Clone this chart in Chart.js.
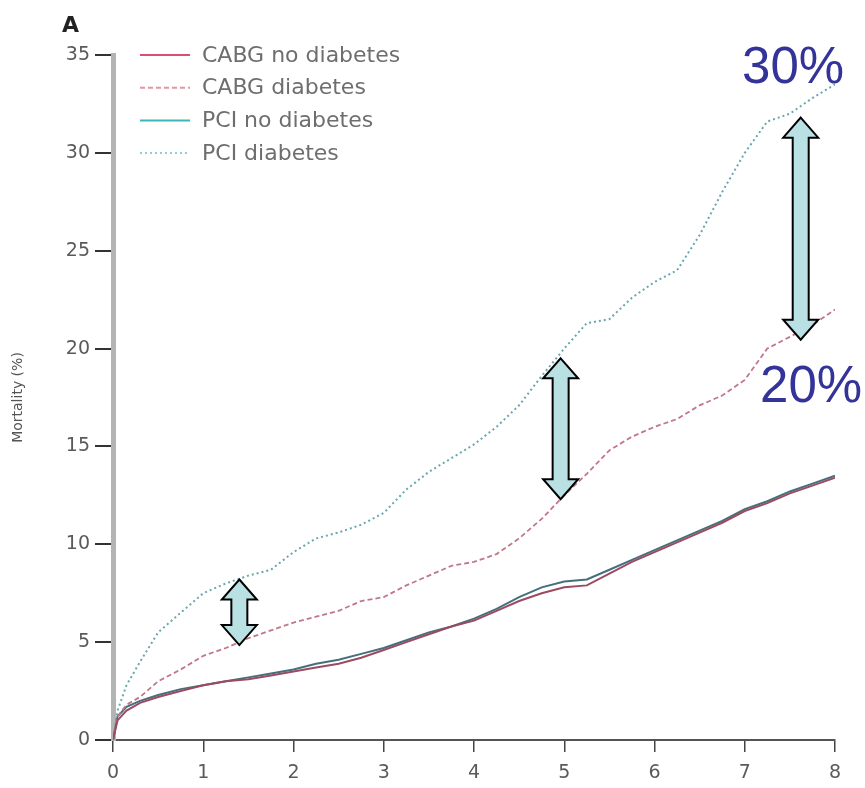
<!DOCTYPE html>
<html>
<head>
<meta charset="utf-8">
<script src="https://cdn.jsdelivr.net/npm/chart.js@4"></script>
<style>
  body { margin: 0; background: #fff; }
</style>
</head>
<body>
<canvas id="mortChart" width="865" height="788"></canvas>
<script>
// follow-up time (years)
const years = [0, 0.05, 0.15, 0.3, 0.5, 0.75, 1, 1.25, 1.5, 1.75, 2, 2.25, 2.5, 2.75, 3, 3.25, 3.5, 3.75,
  4, 4.25, 4.5, 4.75, 5, 5.25, 5.5, 5.75, 6, 6.25, 6.5, 6.75, 7, 7.25, 7.5, 7.75, 8];

// mortality (%)
const cabgNoDiabetes = [0, 1.0, 1.5, 1.9, 2.2, 2.5, 2.8, 3.0, 3.1, 3.3, 3.5, 3.7, 3.9, 4.2, 4.6, 5.0, 5.4, 5.8,
  6.1, 6.6, 7.1, 7.5, 7.8, 7.9, 8.5, 9.1, 9.6, 10.1, 10.6, 11.1, 11.7, 12.1, 12.6, 13.0, 13.4];
const cabgDiabetes = [0, 1.2, 1.8, 2.2, 3.0, 3.6, 4.3, 4.7, 5.2, 5.6, 6.0, 6.3, 6.6, 7.1, 7.3, 7.9, 8.4, 8.9,
  9.1, 9.5, 10.3, 11.3, 12.5, 13.6, 14.8, 15.5, 16.0, 16.4, 17.1, 17.6, 18.4, 20.0, 20.6, 21.2, 22.0];
const pciNoDiabetes = [0, 1.2, 1.7, 2.0, 2.3, 2.6, 2.8, 3.0, 3.2, 3.4, 3.6, 3.9, 4.1, 4.4, 4.7, 5.1, 5.5, 5.8,
  6.2, 6.7, 7.3, 7.8, 8.1, 8.2, 8.7, 9.2, 9.7, 10.2, 10.7, 11.2, 11.8, 12.2, 12.7, 13.1, 13.5];
const pciDiabetes = [0, 1.5, 2.8, 4.0, 5.5, 6.5, 7.5, 8.0, 8.4, 8.7, 9.6, 10.3, 10.6, 11.0, 11.6, 12.8, 13.7, 14.4,
  15.1, 16.0, 17.1, 18.6, 20.0, 21.3, 21.5, 22.6, 23.4, 24.0, 25.8, 28.0, 30.0, 31.6, 32.0, 32.8, 33.5];

const seriesNames = ["CABG no diabetes", "CABG diabetes", "PCI no diabetes", "PCI diabetes"];
const yTicks = [0, 5, 10, 15, 20, 25, 30, 35];
const xTicks = [0, 1, 2, 3, 4, 5, 6, 7, 8];

// callout arrows (years, mortality top, mortality bottom) and labels
const arrowX = [1.4, 4.96, 7.62];
const arrowTop = [8.2, 19.5, 31.8];
const arrowBottom = [4.85, 12.3, 20.45];
const calloutText = ["30%", "20%"];
const calloutX = [6.97, 7.17];
const calloutY = [33.57, 17.27];

const pts = arr => years.map((x, i) => ({ x: x, y: arr[i] }));

// legend + arrows + text drawn on top
const extras = {
  id: "extras",
  afterDatasetsDraw(chart) {
    const c = chart.ctx;
    const xs = chart.scales.x, ys = chart.scales.y;
    c.save();

    // panel letter
    c.fillStyle = "#222";
    c.font = "bold 22px 'DejaVu Sans'";
    c.textBaseline = "alphabetic";
    c.fillText("A", 62, 32);

    // legend
    chart.data.datasets.forEach((ds, i) => {
      const y = 55 + i * 32.7;
      c.strokeStyle = ds.legendColor;
      c.lineWidth = 2;
      c.setLineDash(ds.borderDash || []);
      c.beginPath();
      c.moveTo(140, y);
      c.lineTo(190, y);
      c.stroke();
      c.setLineDash([]);
      c.fillStyle = "#6e6e6e";
      c.font = "22px 'DejaVu Sans'";
      c.textBaseline = "middle";
      c.fillText(ds.label, 202, y + 1);
    });

    // double arrows
    arrowX.forEach((v, i) => {
      const cx = xs.getPixelForValue(v);
      const t = ys.getPixelForValue(arrowTop[i]);
      const b = ys.getPixelForValue(arrowBottom[i]);
      const sw = 8, hw = 17.5, hl = 20;
      c.beginPath();
      c.moveTo(cx, t);
      c.lineTo(cx + hw, t + hl);
      c.lineTo(cx + sw, t + hl);
      c.lineTo(cx + sw, b - hl);
      c.lineTo(cx + hw, b - hl);
      c.lineTo(cx, b);
      c.lineTo(cx - hw, b - hl);
      c.lineTo(cx - sw, b - hl);
      c.lineTo(cx - sw, t + hl);
      c.lineTo(cx - hw, t + hl);
      c.closePath();
      c.fillStyle = "#b9e0e3";
      c.fill();
      c.strokeStyle = "#000";
      c.lineWidth = 2;
      c.stroke();
    });

    // percent callouts
    c.fillStyle = "#333399";
    c.font = "51px 'Liberation Sans'";
    c.textBaseline = "alphabetic";
    calloutText.forEach((s, i) => {
      c.fillText(s, xs.getPixelForValue(calloutX[i]), ys.getPixelForValue(calloutY[i]));
    });
    c.restore();
  }
};

const ctx = document.getElementById("mortChart");
new Chart(ctx, {
  type: "line",
  data: {
    datasets: [
      {
        label: seriesNames[0],
        data: pts(cabgNoDiabetes),
        borderColor: "#9c4a62",
        legendColor: "#d9506e",
        borderWidth: 2,
      },
      {
        label: seriesNames[1],
        data: pts(cabgDiabetes),
        borderColor: "#c07888",
        legendColor: "#e295a5",
        borderWidth: 1.8,
        borderDash: [5, 3],
      },
      {
        label: seriesNames[2],
        data: pts(pciNoDiabetes),
        borderColor: "#44707c",
        legendColor: "#3fb5b5",
        borderWidth: 2,
      },
      {
        label: seriesNames[3],
        data: pts(pciDiabetes),
        borderColor: "#6aa6ae",
        legendColor: "#93cdcd",
        borderWidth: 2,
        borderDash: [2, 3],
      },
    ],
  },
  options: {
    responsive: false,
    animation: false,
    layout: { padding: { top: 55, right: 30, left: 0, bottom: 0 } },
    elements: { point: { radius: 0 }, line: { tension: 0 } },
    plugins: { legend: { display: false }, tooltip: { enabled: false } },
    scales: {
      x: {
        type: "linear",
        min: 0,
        max: 8,
        afterBuildTicks: s => { s.ticks = xTicks.map(v => ({ value: v })); },
        ticks: { color: "#5a5a5a", font: { family: "DejaVu Sans", size: 19 }, padding: 10 },
        grid: { drawOnChartArea: false, tickLength: 12, color: "#444", lineWidth: 1.5 },
        border: { color: "#555", width: 2 },
        afterFit: s => { s.height = 48; },
      },
      y: {
        min: 0,
        max: 35,
        afterBuildTicks: s => { s.ticks = yTicks.map(v => ({ value: v })); },
        ticks: { color: "#5a5a5a", font: { family: "DejaVu Sans", size: 19 }, padding: 5 },
        grid: { drawOnChartArea: false, tickLength: 18, color: "#333", lineWidth: 2 },
        border: { color: "#b4b4b4", width: 5 },
        title: {
          display: true,
          text: "Mortality (%)",
          color: "#555",
          font: { family: "DejaVu Sans", size: 14 },
          padding: { top: 10, bottom: 0 },
        },
        afterFit: s => { s.width = 113; },
      },
    },
  },
  plugins: [extras],
});
</script>
</body>
</html>
